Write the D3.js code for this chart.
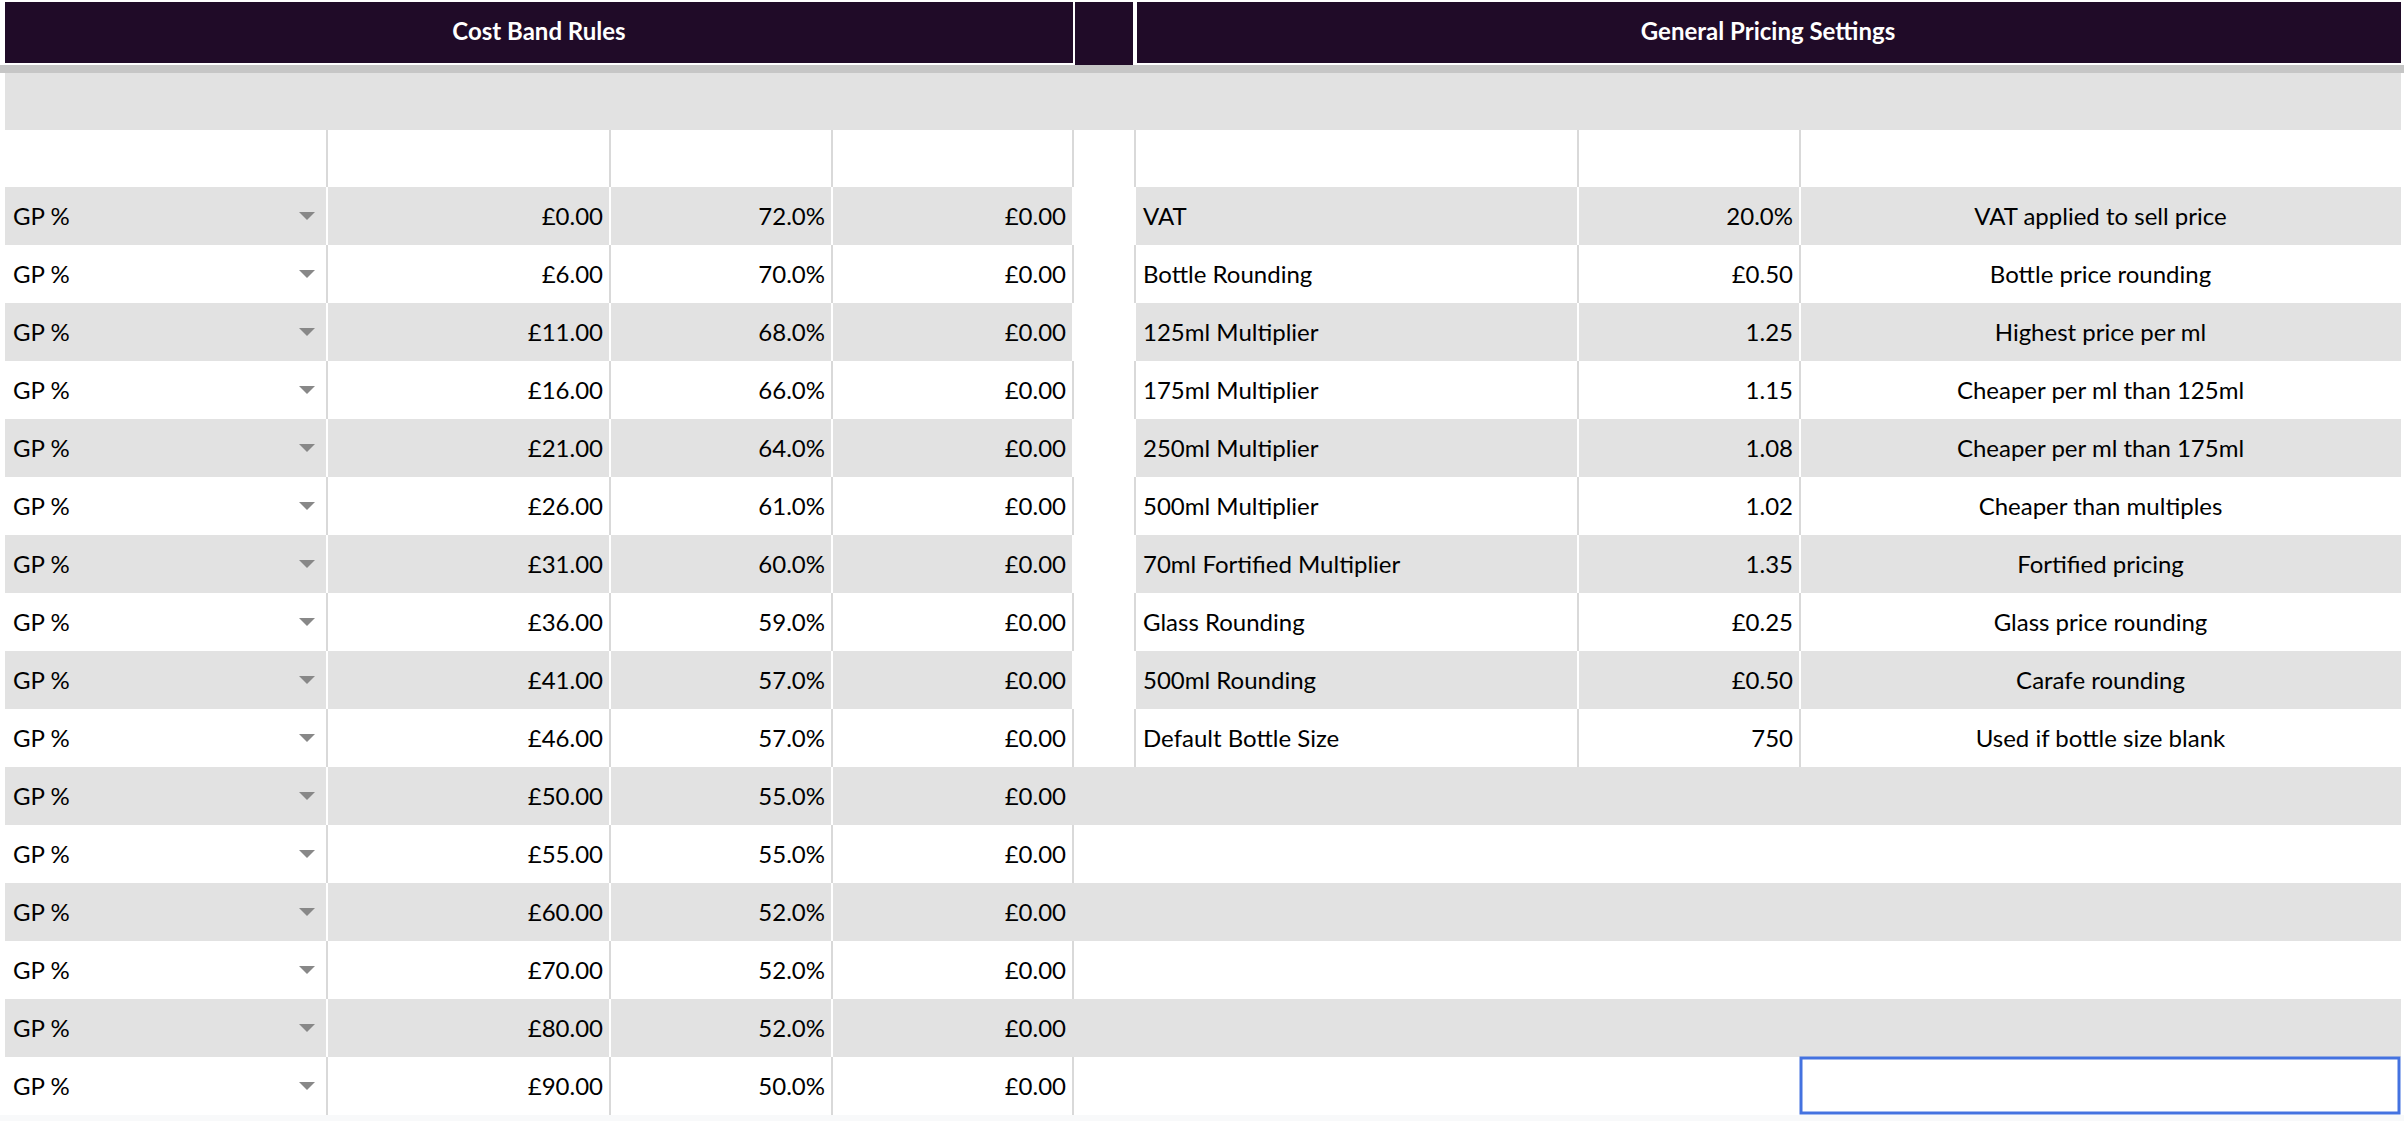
<!DOCTYPE html>
<html>
<head>
<meta charset="utf-8">
<script src="https://cdn.jsdelivr.net/npm/d3@7"></script>
<style>
  body { margin: 0; background: #fff; }
  text { font-family: Lato, "Open Sans", sans-serif; font-size: 24px; fill: #000; }
</style>
</head>
<body>
<div id="sheet"></div>
<script>
// cost band rules
var bandType = "GP %";
var bandCost = [0, 6, 11, 16, 21, 26, 31, 36, 41, 46, 50, 55, 60, 70, 80, 90];
var bandGp = [72, 70, 68, 66, 64, 61, 60, 59, 57, 57, 55, 55, 52, 52, 52, 50];
var bandFee = [0, 0, 0, 0, 0, 0, 0, 0, 0, 0, 0, 0, 0, 0, 0, 0];

// general pricing settings
var settingNames = ["VAT", "Bottle Rounding", "125ml Multiplier", "175ml Multiplier", "250ml Multiplier",
  "500ml Multiplier", "70ml Fortified Multiplier", "Glass Rounding", "500ml Rounding", "Default Bottle Size"];
var settingValues = ["20.0%", "£0.50", "1.25", "1.15", "1.08", "1.02", "1.35", "£0.25", "£0.50", "750"];
var settingNotes = ["VAT applied to sell price", "Bottle price rounding", "Highest price per ml",
  "Cheaper per ml than 125ml", "Cheaper per ml than 175ml", "Cheaper than multiples", "Fortified pricing",
  "Glass price rounding", "Carafe rounding", "Used if bottle size blank"];

var W = 2404, H = 1121;
// column edges
var cols = [5, 327, 610, 832, 1073, 1135, 1578, 1800, 2401];
var gray = "#e2e2e2", line = "#d9d9d9", dark = "#200b28";

var y = d3.scaleBand().domain(d3.range(bandCost.length)).range([187, 187 + 58 * bandCost.length]);
var gbp = d3.format(".2f");

var svg = d3.select("#sheet").append("svg").attr("width", W).attr("height", H);

svg.append("rect").attr("width", W).attr("height", H).attr("fill", "#fff");
// header
svg.append("rect").attr("x", cols[0]).attr("y", 2).attr("width", cols[4] - cols[0]).attr("height", 61).attr("fill", dark);
svg.append("rect").attr("x", cols[4] + 2).attr("y", 2).attr("width", cols[5] - cols[4] - 4).attr("height", 63).attr("fill", dark);
svg.append("rect").attr("x", cols[5] + 2).attr("y", 2).attr("width", cols[8] - cols[5] - 2).attr("height", 61).attr("fill", dark);
svg.append("text").attr("x", (cols[0] + cols[4]) / 2).attr("y", 40).attr("text-anchor", "middle")
  .style("fill", "#fff").style("font-weight", "bold").text("Cost Band Rules");
svg.append("text").attr("x", (cols[5] + cols[8]) / 2).attr("y", 40).attr("text-anchor", "middle")
  .style("fill", "#fff").style("font-weight", "bold").text("General Pricing Settings");
// frozen line + gray band
svg.append("rect").attr("x", 0).attr("y", 65).attr("width", W).attr("height", 8).attr("fill", "#c6c6c6");
svg.append("rect").attr("x", cols[0]).attr("y", 73).attr("width", cols[8] - cols[0]).attr("height", 57).attr("fill", gray);

// blank white row grid
cols.slice(1, 8).forEach(function (c) {
  svg.append("line").attr("x1", c).attr("x2", c).attr("y1", 130).attr("y2", 187).attr("stroke", line).attr("stroke-width", 2);
});

var rows = svg.selectAll("g.row").data(d3.range(bandCost.length)).enter().append("g").attr("class", "row")
  .attr("transform", function (i) { return "translate(0," + y(i) + ")"; });
var h = y.bandwidth();

rows.each(function (i) {
  var g = d3.select(this), shade = i % 2 === 0, hasSet = i < settingNames.length;
  if (shade) {
    g.append("rect").attr("x", cols[0]).attr("width", cols[4] - cols[0]).attr("height", h).attr("fill", gray);
    if (hasSet) g.append("rect").attr("x", cols[5]).attr("width", cols[8] - cols[5]).attr("height", h).attr("fill", gray);
    else g.append("rect").attr("x", cols[4]).attr("width", cols[8] - cols[4]).attr("height", h).attr("fill", gray);
  }
  var edges = hasSet ? cols.slice(1, 8) : cols.slice(1, 5);
  edges.forEach(function (c) {
    g.append("line").attr("x1", c).attr("x2", c).attr("y1", 0).attr("y2", h).attr("stroke", shade && !hasSet && c === cols[4] ? gray : (shade ? "#fff" : line)).attr("stroke-width", 2);
  });
  var ty = h / 2 + 9;
  g.append("text").attr("x", 13).attr("y", ty).text(bandType);
  g.append("path").attr("d", "M299," + (h / 2 - 4) + "h16l-8,8z").attr("fill", "#888");
  g.append("text").attr("x", cols[2] - 7).attr("y", ty).attr("text-anchor", "end").text("£" + gbp(bandCost[i]));
  g.append("text").attr("x", cols[3] - 7).attr("y", ty).attr("text-anchor", "end").text(bandGp[i].toFixed(1) + "%");
  g.append("text").attr("x", cols[4] - 7).attr("y", ty).attr("text-anchor", "end").text("£" + gbp(bandFee[i]));
  if (hasSet) {
    g.append("text").attr("x", cols[5] + 8).attr("y", ty).text(settingNames[i]);
    g.append("text").attr("x", cols[7] - 7).attr("y", ty).attr("text-anchor", "end").text(settingValues[i]);
    g.append("text").attr("x", (cols[7] + cols[8]) / 2).attr("y", ty).attr("text-anchor", "middle").text(settingNotes[i]);
  }
});

// selected cell
var last = bandCost.length - 1;
svg.append("rect").attr("x", cols[7] + 1).attr("y", y(last) + 1).attr("width", cols[8] - cols[7] - 3).attr("height", h - 3)
  .attr("fill", "none").attr("stroke", "#4472e0").attr("stroke-width", 3);
svg.append("rect").attr("x", 0).attr("y", y(last) + h).attr("width", W).attr("height", H).attr("fill", "#f8f9fa");
</script>
</body>
</html>
